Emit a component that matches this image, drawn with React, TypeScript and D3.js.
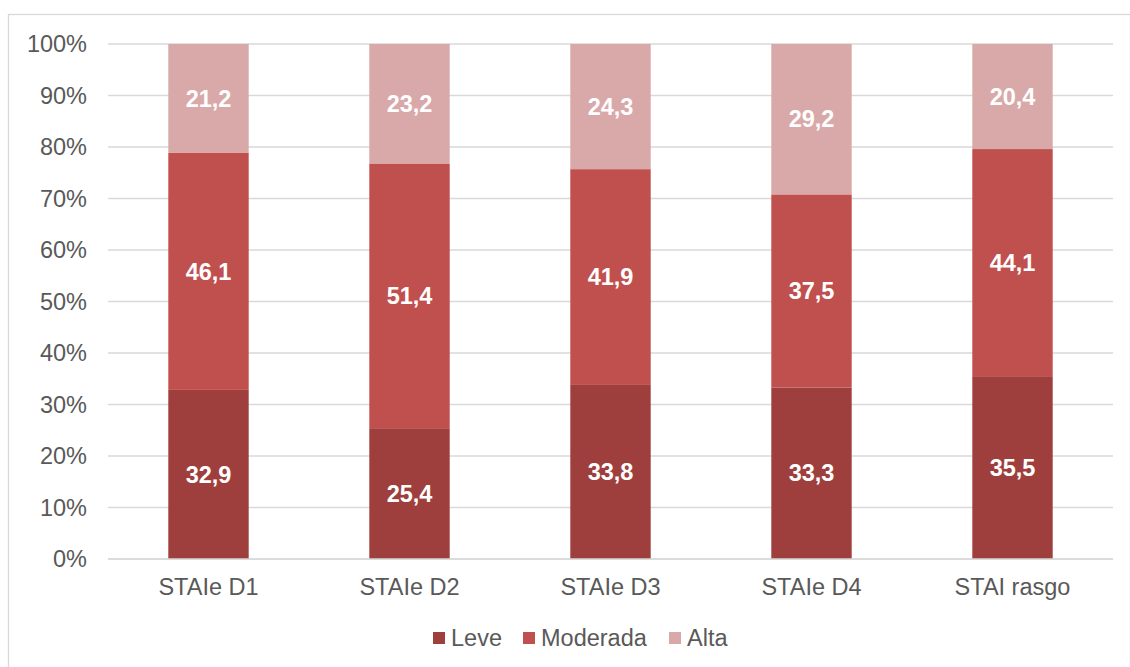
import React from "react";
import * as d3 from "d3";

const categories = ["STAIe D1", "STAIe D2", "STAIe D3", "STAIe D4", "STAI rasgo"];
const seriesNames = ["Leve", "Moderada", "Alta"];
const leve = [32.9, 25.4, 33.8, 33.3, 35.5];
const moderada = [46.1, 51.4, 41.9, 37.5, 44.1];
const alta = [21.2, 23.2, 24.3, 29.2, 20.4];
const yTicks = [0, 10, 20, 30, 40, 50, 60, 70, 80, 90, 100];
const colors = ["#9e3f3e", "#c0504d", "#d9a9a9"];

const W = 1130;
const H = 667;
const margin = { left: 108, right: 17, top: 44, bottom: 108 };

export default function App() {
  const series = [leve, moderada, alta];
  const rows = categories.map((c, i) => {
    const total = leve[i] + moderada[i] + alta[i];
    const r: any = { cat: c };
    seriesNames.forEach((s, k) => {
      r[s] = (series[k][i] / total) * 100;
    });
    return r;
  });
  const stacked = d3.stack<any>().keys(seriesNames)(rows);

  const x = d3
    .scaleBand()
    .domain(categories)
    .range([margin.left, W - margin.right])
    .paddingInner(0.6)
    .paddingOuter(0.3);
  const y = d3
    .scaleLinear()
    .domain([0, 100])
    .range([H - margin.bottom, margin.top]);

  const font = "'Liberation Sans', Arial, sans-serif";
  const fs = 23.5;
  const legendItems = [
    { name: "Leve", x: 433 },
    { name: "Moderada", x: 523 },
    { name: "Alta", x: 669 },
  ];

  return (
    <svg
      width={W}
      height={H}
      style={{ position: "absolute", left: 0, top: 0, fontFamily: font }}
    >
      <rect x={0} y={0} width={W} height={H} fill="#fff" />
      <rect
        x={8.5}
        y={14.5}
        width={W - 8}
        height={H}
        fill="none"
        stroke="#d9d9d9"
        strokeWidth={1.3}
      />
      {yTicks.map((t) => (
        <g key={t}>
          <line
            x1={margin.left}
            x2={W - margin.right}
            y1={y(t)}
            y2={y(t)}
            stroke="#d9d9d9"
            strokeWidth={1.3}
          />
          <text
            x={87}
            y={y(t)}
            dy="0.35em"
            textAnchor="end"
            fontSize={fs}
            fill="#595959"
          >
            {t}%
          </text>
        </g>
      ))}
      {stacked.map((s, k) => (
        <g key={s.key}>
          {s.map((d, i) => {
            const x0 = x(categories[i])!;
            const y0 = y(d[1]);
            const h = y(d[0]) - y(d[1]);
            return (
              <g key={i}>
                <rect x={x0} y={y0} width={x.bandwidth()} height={h} fill={colors[k]} />
                <text
                  x={x0 + x.bandwidth() / 2}
                  y={y0 + h / 2}
                  dy="0.35em"
                  textAnchor="middle"
                  fontSize={fs}
                  fontWeight="bold"
                  fill="#fff"
                >
                  {d3.format(".1f")(series[k][i]).replace(".", ",")}
                </text>
              </g>
            );
          })}
        </g>
      ))}
      <line
        x1={margin.left}
        x2={W - margin.right}
        y1={y(0)}
        y2={y(0)}
        stroke="#d9d9d9"
        strokeWidth={1.3}
      />
      {categories.map((c) => (
        <text
          key={c}
          x={x(c)! + x.bandwidth() / 2}
          y={587}
          dy="0.35em"
          textAnchor="middle"
          fontSize={fs}
          fill="#595959"
        >
          {c}
        </text>
      ))}
      {legendItems.map((l, k) => (
        <g key={l.name}>
          <rect x={l.x} y={632} width={12} height={12} fill={colors[k]} />
          <text x={l.x + 18} y={638} dy="0.35em" fontSize={fs} fill="#595959">
            {l.name}
          </text>
        </g>
      ))}
    </svg>
  );
}
